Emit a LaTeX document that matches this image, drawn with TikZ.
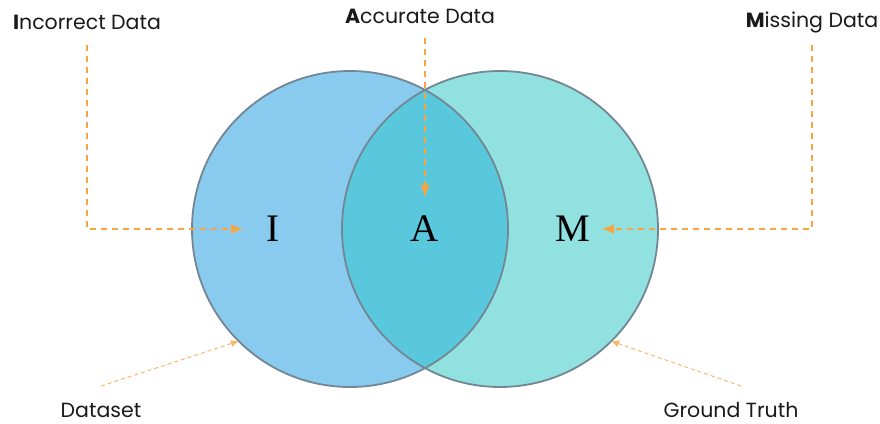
\documentclass[tikz,border=0pt]{standalone}
\usepackage{fontspec}
\setmainfont{Poppins}
\newfontfamily\letterfont{Liberation Serif}
\usetikzlibrary{arrows.meta}
\definecolor{setblue}{HTML}{89CBEE}
\definecolor{setteal}{HTML}{92E1E1}
\definecolor{setmix}{HTML}{5AC8DC}
\definecolor{rimgray}{HTML}{728694}
\definecolor{arrorange}{HTML}{F7A541}
\definecolor{txtgray}{HTML}{1A1A1A}
\tikzset{
  label text/.style={font=\fontsize{20.5}{23}\selectfont, text=txtgray, inner sep=0pt},
  letter text/.style={font=\letterfont\fontsize{39}{41}\selectfont, inner sep=0pt},
  main arrow/.style={draw=arrorange, line width=1.5pt, dash pattern=on 6pt off 5pt, -{Latex[length=12pt,width=10pt]}},
  thin arrow/.style={draw=arrorange!80, line width=1pt, dash pattern=on 4pt off 3pt, -{Latex[length=8pt,width=7pt]}},
  rim/.style={draw=rimgray, line width=1.8pt}
}
\begin{document}
\begin{tikzpicture}[x=1pt,y=-1pt]
\useasboundingbox (0,0) rectangle (880,423);
\fill[white] (0,0) rectangle (880,423);
% circles
\fill[setblue] (350,229) circle (158);
\fill[setteal] (500,229) circle (158);
\begin{scope}
  \clip (350,229) circle (158);
  \fill[setmix] (500,229) circle (158);
\end{scope}
\draw[rim] (350,229) circle (158);
\draw[rim] (500,229) circle (158);
% letters
\node[letter text] (I) at (273,229) {I};
\node[letter text] (A) at (425,229) {A};
\node[letter text] (M) at (573,229) {M};
% labels
\node[label text] (inc) at (87,22) {\textbf{I}ncorrect Data};
\node[label text] (acc) at (420,16) {\textbf{A}ccurate Data};
\node[label text] (mis) at (812,22) {\textbf{M}issing Data};
\node[label text] (ds) at (101,410) {Dataset};
\node[label text] (gt) at (731,410) {Ground Truth};
% coordinates
\coordinate (incS) at (87,45);
\coordinate (incC) at (87,229);
\coordinate (incE) at (243,229);
\coordinate (accS) at (425,38);
\coordinate (accE) at (425,197);
\coordinate (misS) at (812,45);
\coordinate (misC) at (812,229);
\coordinate (misE) at (602,229);
\coordinate (dsS) at (101,386);
\coordinate (dsE) at (239,341);
\coordinate (gtS) at (741,386);
\coordinate (gtE) at (611,341);
% arrows
\draw[main arrow] (incS) -- (incC) -- (incE);
\draw[main arrow] (accS) -- (accE);
\draw[main arrow] (misS) -- (misC) -- (misE);
\draw[thin arrow] (dsS) -- (dsE);
\draw[thin arrow] (gtS) -- (gtE);
\end{tikzpicture}
\end{document}
